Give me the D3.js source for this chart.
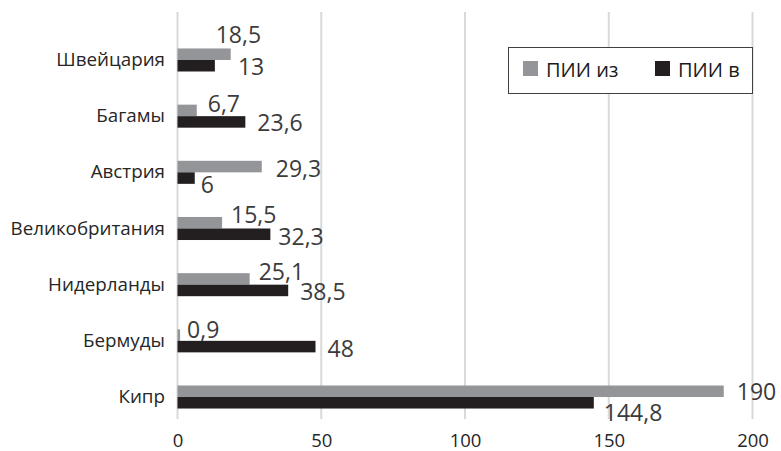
<!DOCTYPE html>
<html>
<head>
<meta charset="utf-8">
<script src="https://cdn.jsdelivr.net/npm/d3@7"></script>
<style>
  html, body { margin: 0; padding: 0; background: #fff; }
  svg { display: block; font-family: "Open Sans", sans-serif; }
</style>
</head>
<body>
<svg id="chart" width="781" height="451"></svg>
<script>
// Countries, top to bottom
const categories = ["Швейцария", "Багамы", "Австрия", "Великобритания", "Нидерланды", "Бермуды", "Кипр"];
// Series names (legend)
const seriesNames = ["ПИИ из", "ПИИ в"];
// FDI outflow ("из") and inflow ("в") values
const valuesOut = [18.5, 6.7, 29.3, 15.5, 25.1, 0.9, 190];
const valuesIn  = [13, 23.6, 6, 32.3, 38.5, 48, 144.8];
// X axis ticks
const xTicks = [0, 50, 100, 150, 200];

// Hand-placed value label offsets (dx from bar end, dy of baseline from bar centre)
const labelNudgeOut = [[-15, -11.5], [11, 2], [14, 10], [9, 0.5], [9, 1], [7, 2.5], [13, 9]];
const labelNudgeIn  = [[23, 9.5], [12, 9.5], [6, 15], [8, 11], [12, 10], [12, 10], [10, 18.7]];

const colors = ["#939598", "#231f20"];
const fmt = v => String(v).replace(".", ",");

const svg = d3.select("#chart");
const plotTop = 12, plotBottom = 419;

const x = d3.scaleLinear().domain([0, 200]).range([177.5, 752.5]);
const y = d3.scaleBand().domain(categories).range([31.9, 425.1])
  .paddingInner(0.59).paddingOuter(0.295);
const ySub = d3.scaleBand().domain(seriesNames).range([0, y.bandwidth()]);

// Vertical gridlines (including the zero line)
svg.append("g").selectAll("line").data(xTicks).join("line")
  .attr("x1", d => x(d)).attr("x2", d => x(d))
  .attr("y1", plotTop).attr("y2", plotBottom)
  .attr("stroke", "#d9d9d9").attr("stroke-width", 2);

// X axis tick labels
const xAxis = svg.append("g")
  .attr("transform", `translate(0,${plotBottom})`)
  .call(d3.axisBottom(x).tickValues(xTicks).tickSize(0).tickFormat(d => d));
xAxis.select(".domain").remove();
xAxis.selectAll("text")
  .attr("y", 28).attr("dy", 0)
  .attr("fill", "#262626")
  .style("font-size", "18.5px")
  .style("font-family", "'Open Sans', sans-serif");

// Category labels
svg.append("g").selectAll("text").data(categories).join("text")
  .attr("x", 165)
  .attr("y", d => y(d) + y.bandwidth() / 2 + 6)
  .attr("text-anchor", "end")
  .attr("fill", "#262626")
  .style("font-size", "18.8px")
  .text(d => d);

const series = [
  { name: seriesNames[0], values: valuesOut, nudge: labelNudgeOut, color: colors[0] },
  { name: seriesNames[1], values: valuesIn,  nudge: labelNudgeIn,  color: colors[1] }
];

series.forEach(s => {
  const g = svg.append("g");
  g.selectAll("rect").data(categories).join("rect")
    .attr("x", x(0))
    .attr("y", (c) => y(c) + ySub(s.name))
    .attr("width", (c, i) => x(s.values[i]) - x(0))
    .attr("height", ySub.bandwidth())
    .attr("fill", s.color);

  g.selectAll("text").data(categories).join("text")
    .attr("x", (c, i) => x(s.values[i]) + s.nudge[i][0])
    .attr("y", (c, i) => y(c) + ySub(s.name) + ySub.bandwidth() / 2 + s.nudge[i][1])
    .attr("fill", "#3b3b3b")
    .style("font-size", "23px")
    .text((c, i) => fmt(s.values[i]));
});

// Legend
const legend = svg.append("g");
legend.append("rect")
  .attr("x", 508.5).attr("y", 47.5).attr("width", 244).attr("height", 46)
  .attr("fill", "#fff").attr("stroke", "#404040").attr("stroke-width", 1);
const legendX = [523, 655];
seriesNames.forEach((n, i) => {
  legend.append("rect")
    .attr("x", legendX[i]).attr("y", 61).attr("width", 15).attr("height", 15)
    .attr("fill", colors[i]);
  legend.append("text")
    .attr("x", legendX[i] + 23).attr("y", 76.5)
    .attr("fill", "#1a1a1a")
    .style("font-size", "20px")
    .text(n);
});
</script>
</body>
</html>
